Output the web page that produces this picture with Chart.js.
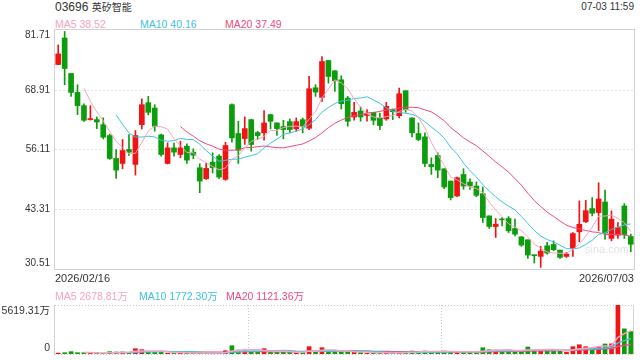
<!DOCTYPE html>
<html>
<head>
<meta charset="utf-8">
<script src="https://cdn.jsdelivr.net/npm/chart.js@4.4.1/dist/chart.umd.min.js"></script>
<style>
  body { margin: 0; background: #fff; }
  #wrap { position: relative; width: 640px; height: 360px; overflow: hidden;
          font-family: "Liberation Sans", Arial, "Noto Sans CJK SC", sans-serif; color: #333; }
  .t { position: absolute; white-space: nowrap; line-height: 1; }
  canvas { position: absolute; left: 0; }
</style>
</head>
<body>
<div id="wrap">
  <div class="t" style="left:55px;top:1px;font-size:12px">03696 <span style="font-family:'Noto Sans CJK SC';font-size:10px">英矽智能</span></div>
  <div class="t" style="right:6px;top:2px;font-size:10px">07-03 11:59</div>
  <div class="t" style="left:55px;top:18.6px;font-size:10.5px;color:#f9a3c0">MA5 38.52</div>
  <div class="t" style="left:140px;top:18.6px;font-size:10.5px;color:#3ec2e2">MA10 40.16</div>
  <div class="t" style="left:225px;top:18.6px;font-size:10.5px;color:#ee4a7c">MA20 37.49</div>

  <canvas id="priceChart" width="640" height="275" style="top:0"></canvas>
  <div class="t" style="left:585px;top:243.5px;font-size:11px;color:rgba(0,0,0,0.13)">sina.com</div>

  <div class="t" style="left:55px;top:273px;font-size:11px">2026/02/16</div>
  <div class="t" style="right:6px;top:273px;font-size:11px">2026/07/03</div>
  <div class="t" style="left:55px;top:290.7px;font-size:10.5px;color:#f9a3c0">MA5 2678.81万</div>
  <div class="t" style="left:139px;top:290.7px;font-size:10.5px;color:#3ec2e2">MA10 1772.30万</div>
  <div class="t" style="left:226px;top:290.7px;font-size:10.5px;color:#ee4a7c">MA20 1121.36万</div>

  <canvas id="volChart" width="640" height="75" style="top:285px"></canvas>
</div>

<script>
// 03696 英矽智能 — daily K-line, 2026/02/16 .. 2026/07/03

const UP = "#f01414";
const DOWN = "#0c9c0c";
const MA5_COLOR = "#f9a3c0";
const MA10_COLOR = "#3ec2e2";
const MA20_COLOR = "#ee4a7c";

// --- Data ---
const days = Array.from({ length: 90 }, (_, i) => "d" + i);

const open = [
  74.31, 80.00, 72.39, 68.34, 65.50, 62.51, 62.51, 61.44, 59.10, 54.19,
  53.12, 56.11, 52.91, 61.44, 66.14, 64.99, 59.24, 53.12, 56.46, 55.04,
  56.82, 55.54, 52.20, 49.85, 53.40, 54.69, 49.71, 65.71, 59.53, 58.46,
  62.51, 59.74, 59.67, 63.58, 61.80, 61.02, 62.08, 60.52, 62.51, 60.66,
  69.34, 67.28, 75.17, 72.96, 71.04, 67.13, 63.08, 64.36, 63.40, 64.07,
  62.87, 62.65, 64.60, 63.36, 68.70, 62.87, 59.53, 58.82, 52.91, 54.83,
  51.98, 49.35, 46.15, 50.77, 49.14, 48.29, 46.65, 41.89, 39.61, 41.18,
  41.32, 39.19, 37.41, 36.77, 33.43, 33.21, 35.49, 35.77, 34.56, 33.21,
  34.92, 38.47, 40.61, 43.45, 42.60, 44.87, 37.05, 37.76, 44.02, 37.48,
];
const high = [
  78.51, 81.40, 72.39, 69.98, 65.90, 65.50, 63.08, 62.90, 59.40, 56.11,
  58.25, 59.31, 60.17, 66.99, 67.49, 65.71, 59.40, 57.54, 57.50, 57.90,
  57.30, 56.25, 53.05, 53.12, 55.40, 55.00, 57.67, 65.90, 62.16, 63.08,
  62.60, 60.00, 64.43, 63.70, 61.80, 62.37, 62.65, 62.87, 62.87, 71.76,
  69.98, 76.02, 75.17, 73.00, 71.90, 67.49, 66.21, 65.21, 64.64, 64.07,
  63.93, 66.21, 64.79, 69.27, 68.70, 62.87, 61.80, 59.67, 54.33, 55.40,
  51.98, 49.35, 50.20, 51.98, 49.85, 49.14, 48.07, 41.89, 41.32, 41.53,
  41.75, 41.18, 37.41, 36.77, 33.50, 35.35, 36.20, 36.55, 34.56, 34.07,
  38.33, 45.09, 45.23, 45.80, 48.99, 47.43, 42.95, 40.47, 44.50, 37.98,
];
const low = [
  74.31, 69.98, 67.49, 63.58, 62.15, 62.40, 60.59, 58.40, 54.00, 49.92,
  51.98, 54.83, 50.63, 60.52, 63.50, 60.02, 54.70, 53.00, 54.68, 54.33,
  53.12, 54.12, 46.86, 49.71, 51.10, 49.85, 49.50, 57.70, 53.12, 57.20,
  55.75, 58.25, 58.10, 60.52, 59.10, 58.39, 59.67, 60.02, 59.67, 60.38,
  67.49, 66.42, 70.33, 68.56, 64.79, 61.09, 62.37, 62.16, 62.16, 61.44,
  60.38, 62.37, 62.51, 62.87, 64.07, 58.82, 58.00, 52.41, 50.77, 50.06,
  47.72, 45.30, 46.00, 47.58, 47.58, 46.00, 40.47, 39.19, 37.27, 39.75,
  38.33, 37.62, 35.35, 32.79, 31.80, 30.87, 33.71, 34.42, 32.79, 33.00,
  33.21, 36.34, 40.47, 41.89, 38.69, 36.91, 36.55, 37.05, 37.05, 34.20,
];
const close = [
  76.59, 73.46, 68.34, 65.50, 62.37, 62.55, 62.00, 58.74, 54.19, 51.70,
  55.89, 55.54, 59.10, 65.71, 64.07, 61.09, 55.04, 56.46, 55.54, 56.46,
  53.83, 54.90, 49.35, 52.06, 52.20, 50.20, 56.96, 58.60, 55.96, 60.59,
  57.18, 59.10, 61.80, 62.16, 60.59, 60.38, 60.38, 62.08, 61.09, 69.13,
  68.41, 74.96, 71.76, 70.83, 65.92, 62.16, 64.07, 63.08, 63.70, 62.37,
  61.23, 65.36, 64.20, 68.06, 64.64, 59.67, 58.25, 53.12, 52.41, 51.70,
  48.07, 45.80, 50.06, 48.29, 48.29, 46.29, 41.53, 39.61, 40.11, 41.03,
  38.69, 37.98, 35.63, 33.50, 33.36, 34.35, 33.93, 34.64, 33.00, 33.71,
  38.10, 40.10, 43.00, 42.46, 45.50, 38.20, 41.20, 39.40, 37.90, 35.80,
];
// volume, 万股
const volume = [
  100, 150, 270, 150, 150, 80, 80, 80, 270, 230,
  230, 190, 610, 500, 190, 190, 300, 80, 150, 80,
  150, 110, 150, 110, 110, 110, 380, 950, 450, 450,
  270, 270, 610, 190, 190, 270, 190, 190, 190, 840,
  190, 720, 300, 190, 300, 300, 230, 190, 80, 80,
  190, 110, 110, 230, 230, 340, 230, 340, 230, 230,
  340, 230, 230, 230, 230, 230, 720, 490, 460, 340,
  380, 380, 380, 800, 400, 520, 520, 360, 360, 190,
  840, 1060, 840, 700, 880, 1150, 1165, 5619.31, 2884, 2576,
];

const priceTicks = [30.51, 43.31, 56.11, 68.91, 81.71];
const volTicks = [0, 5619.31];

// --- Helpers ---

function movingAvg(arr, n) {
  return arr.map((_, i) => {
    if (i < n - 1) return null;
    let s = 0;
    for (let k = i - n + 1; k <= i; k++) s += arr[k];
    return s / n;
  });
}

const candleColors = open.map((o, i) => (close[i] >= o ? UP : DOWN));

function maLine(data, color, width) {
  return {
    type: "line",
    data: data,
    borderColor: color,
    borderWidth: width,
    pointRadius: 0,
    tension: 0,
    fill: false,
  };
}

const LABEL_FONT = "10px 'Liberation Sans', 'Noto Sans CJK SC', sans-serif";

// grid, frame and y labels for the price panel
const priceFrame = {
  id: "priceFrame",
  beforeDatasetsDraw(chart) {
    const { ctx, chartArea: a, scales } = chart;
    ctx.save();
    ctx.strokeStyle = "#e4e4e4";
    ctx.lineWidth = 1;
    ctx.setLineDash([2, 2]);
    priceTicks.slice(1, -1).forEach(v => {
      const y = Math.round(scales.y.getPixelForValue(v)) + 0.5;
      ctx.beginPath();
      ctx.moveTo(a.left, y);
      ctx.lineTo(a.right, y);
      ctx.stroke();
    });
    ctx.restore();
  },
  afterDraw(chart) {
    const { ctx, chartArea: a, scales } = chart;
    ctx.save();
    ctx.strokeStyle = "#d2d2d2";
    ctx.lineWidth = 1;
    ctx.strokeRect(Math.round(a.left) - 0.5, Math.round(a.top) - 0.5,
      Math.round(a.right - a.left) + 1, Math.round(a.bottom - a.top) + 1);
    ctx.fillStyle = "#333";
    ctx.font = LABEL_FONT;
    ctx.textAlign = "right";
    ctx.textBaseline = "middle";
    priceTicks.forEach((v, i) => {
      let y = scales.y.getPixelForValue(v);
      if (i === 0) y -= 6;
      if (i === priceTicks.length - 1) y += 5.5;
      ctx.fillText(v.toFixed(2), a.left - 5, y);
    });
    ctx.restore();
  },
};

// grid, frame and y labels for the volume panel
const volFrame = {
  id: "volFrame",
  beforeDatasetsDraw(chart) {
    const { ctx, chartArea: a } = chart;
    const w = a.right - a.left;
    ctx.save();
    ctx.strokeStyle = "#c8c8c8";
    ctx.lineWidth = 1;
    ctx.setLineDash([1, 2]);
    [a.top, a.bottom].forEach(yy => {
      const y = Math.round(yy) + 0.5;
      ctx.beginPath();
      ctx.moveTo(a.left, y);
      ctx.lineTo(a.right, y);
      ctx.stroke();
    });
    [1 / 3, 2 / 3].forEach(f => {
      const x = Math.round(a.left + w * f) + 0.5;
      ctx.beginPath();
      ctx.moveTo(x, a.top);
      ctx.lineTo(x, a.bottom);
      ctx.stroke();
    });
    ctx.setLineDash([]);
    ctx.strokeStyle = "#d2d2d2";
    [a.left, a.right].forEach(xx => {
      const x = Math.round(xx) - 0.5;
      ctx.beginPath();
      ctx.moveTo(x, a.top);
      ctx.lineTo(x, a.bottom + 1);
      ctx.stroke();
    });
    ctx.restore();
  },
  afterDraw(chart) {
    const { ctx, chartArea: a, scales } = chart;
    ctx.save();
    ctx.fillStyle = "#333";
    ctx.font = "10.5px 'Liberation Sans', 'Noto Sans CJK SC', sans-serif";
    ctx.textAlign = "right";
    ctx.textBaseline = "middle";
    volTicks.forEach((v, i) => {
      let y = scales.y.getPixelForValue(v);
      if (i === 0) { ctx.fillText("0", a.left - 5, y - 6); }
      else { ctx.fillText(v.toFixed(2) + "万", a.left - 5, y + 5.7); }
    });
    ctx.restore();
  },
};

const baseOptions = {
  responsive: false,
  animation: false,
  events: [],
  plugins: { legend: { display: false }, tooltip: { enabled: false } },
};

// --- Price chart ---
new Chart(document.getElementById("priceChart"), {
  type: "bar",
  data: {
    labels: days,
    datasets: [
      maLine(movingAvg(close, 5), MA5_COLOR, 1),
      maLine(movingAvg(close, 10), MA10_COLOR, 1),
      maLine(movingAvg(close, 20), MA20_COLOR, 1),
      {
        data: open.map((o, i) => [o, close[i]]),
        backgroundColor: candleColors,
        barThickness: 5,
        minBarLength: 1,
        grouped: false,
        borderWidth: 0,
      },
      {
        data: low.map((l, i) => [l, high[i]]),
        backgroundColor: candleColors,
        barThickness: 1,
        grouped: false,
        borderWidth: 0,
      },
    ],
  },
  options: {
    ...baseOptions,
    layout: { padding: { left: 55, right: 6, top: 30, bottom: 6 } },
    scales: {
      x: { display: false, offset: true },
      y: { display: false, min: priceTicks[0], max: priceTicks[priceTicks.length - 1] },
    },
  },
  plugins: [priceFrame],
});

// --- Volume chart ---
new Chart(document.getElementById("volChart"), {
  type: "bar",
  data: {
    labels: days,
    datasets: [
      maLine(movingAvg(volume, 5), MA5_COLOR, 1.5),
      maLine(movingAvg(volume, 10), MA10_COLOR, 1.5),
      maLine(movingAvg(volume, 20), MA20_COLOR, 1.5),
      {
        data: volume,
        backgroundColor: candleColors,
        barThickness: 4,
        borderWidth: 0,
        grouped: false,
      },
    ],
  },
  options: {
    ...baseOptions,
    layout: { padding: { left: 55, right: 6, top: 20, bottom: 6 } },
    scales: {
      x: { display: false, offset: true },
      y: { display: false, min: volTicks[0], max: volTicks[1] },
    },
  },
  plugins: [volFrame],
});
</script>
</body>
</html>
